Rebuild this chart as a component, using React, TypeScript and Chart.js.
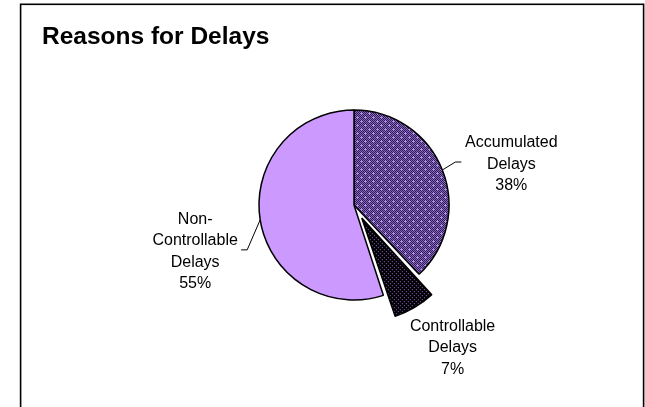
import { useEffect, useRef } from "react";
import { Chart, registerables } from "chart.js";

Chart.register(...registerables);

const titleText = "Reasons for Delays";
const categories = ["Accumulated Delays", "Controllable Delays", "Non-Controllable Delays"];
const labelLines = [["Accumulated", "Delays"], ["Controllable", "Delays"], ["Non-", "Controllable", "Delays"]];
const values = [38, 7, 55];
const percentLabels = ["38%", "7%", "55%"];
const explodeOffsets = [0, 61, 0];

// label placement relative to the slice's outer mid-point (layout only)
const labelLayout = [
  { dx: 69, dy: -23, leader: [[13, -8], [19, -8]] },
  { dx: 38, dy: 23.5, leader: null },
  { dx: -65, dy: 4, leader: [[-13, 30], [-19, 30]] },
];

function makeAccumulatedPattern(): CanvasPattern | string {
  const c = document.createElement("canvas");
  c.width = 8;
  c.height = 8;
  const g = c.getContext("2d");
  if (!g) return "#6b5490";
  for (let y = 0; y < 8; y++) {
    for (let x = 0; x < 8; x++) {
      g.fillStyle = (x + y) % 2 === 0 ? "#2b1d4a" : "#8a66c8";
      g.fillRect(x, y, 1, 1);
    }
  }
  g.fillStyle = "#b48cf0";
  const dots = [[1, 1], [5, 5]];
  for (const [cx, cy] of dots) {
    g.fillRect(cx, cy, 1, 1);
    g.fillRect(cx - 1, cy, 1, 1);
    g.fillRect(cx + 1, cy, 1, 1);
    g.fillRect(cx, cy - 1, 1, 1);
    g.fillRect(cx, cy + 1, 1, 1);
  }
  const p = g.createPattern(c, "repeat");
  return p || "#6b5490";
}

function makeControllablePattern(): CanvasPattern | string {
  const c = document.createElement("canvas");
  c.width = 4;
  c.height = 4;
  const g = c.getContext("2d");
  if (!g) return "#1a1030";
  g.fillStyle = "#000000";
  g.fillRect(0, 0, 4, 4);
  g.fillStyle = "#9d6fdc";
  g.fillRect(0, 0, 1, 1);
  g.fillRect(2, 2, 1, 1);
  const p = g.createPattern(c, "repeat");
  return p || "#1a1030";
}

const decorPlugin = {
  id: "decor",
  afterDraw(chart: any) {
    const ctx = chart.ctx as CanvasRenderingContext2D;
    ctx.save();
    // frame
    ctx.strokeStyle = "#000";
    ctx.lineWidth = 1.6;
    ctx.strokeRect(20.6, 4.3, 623, 500);
    // title
    ctx.fillStyle = "#000";
    ctx.font = "bold 24.5px 'Liberation Sans', Arial, sans-serif";
    ctx.textAlign = "left";
    ctx.textBaseline = "alphabetic";
    ctx.fillText(titleText, 42, 44);

    const meta = chart.getDatasetMeta(0);
    ctx.font = "16px 'Liberation Sans', Arial, sans-serif";
    ctx.textAlign = "center";
    ctx.lineWidth = 1;
    meta.data.forEach((el: any, i: number) => {
      const { x, y, startAngle, endAngle, outerRadius, circumference } = el.getProps(
        ["x", "y", "startAngle", "endAngle", "outerRadius", "circumference"],
        true
      );
      const mid = (startAngle + endAngle) / 2;
      // same displacement rule that Chart.js's ArcElement uses for `offset`
      const o = (explodeOffsets[i] || 0) / 4;
      const fix = 1 - Math.sin(Math.min(Math.PI, circumference || 0));
      const eff = o + o * fix;
      const ax = x + Math.cos(mid) * (outerRadius + eff);
      const ay = y + Math.sin(mid) * (outerRadius + eff);
      const lay = labelLayout[i];
      if (lay.leader) {
        ctx.beginPath();
        ctx.moveTo(ax, ay);
        for (const [lx, ly] of lay.leader) ctx.lineTo(ax + lx, ay + ly);
        ctx.stroke();
      }
      const lines = [...labelLines[i], percentLabels[i]];
      lines.forEach((t, k) => {
        ctx.fillText(t, ax + lay.dx, ay + lay.dy + k * 21.5);
      });
    });
    ctx.restore();
  },
};

export default function App() {
  const ref = useRef<HTMLCanvasElement | null>(null);
  useEffect(() => {
    if (!ref.current) return;
    const chart = new Chart(ref.current, {
      type: "pie",
      data: {
        labels: categories,
        datasets: [
          {
            data: values,
            backgroundColor: [makeAccumulatedPattern(), makeControllablePattern(), "#CC99FF"] as any,
            borderColor: "#000000",
            borderWidth: 1.5,
            offset: explodeOffsets,
          },
        ],
      },
      options: {
        responsive: false,
        animation: false,
        radius: 95,
        layout: { padding: { left: 63, right: 0, top: 3, bottom: 0 } },
        plugins: {
          legend: { display: false },
          tooltip: { enabled: false },
          title: { display: false },
        },
      } as any,
      plugins: [decorPlugin],
    });
    return () => chart.destroy();
  }, []);
  return (
    <canvas
      ref={ref}
      width={645}
      height={407}
      style={{ position: "absolute", left: 0, top: 0, width: 645, height: 407, background: "#fff" }}
    />
  );
}
